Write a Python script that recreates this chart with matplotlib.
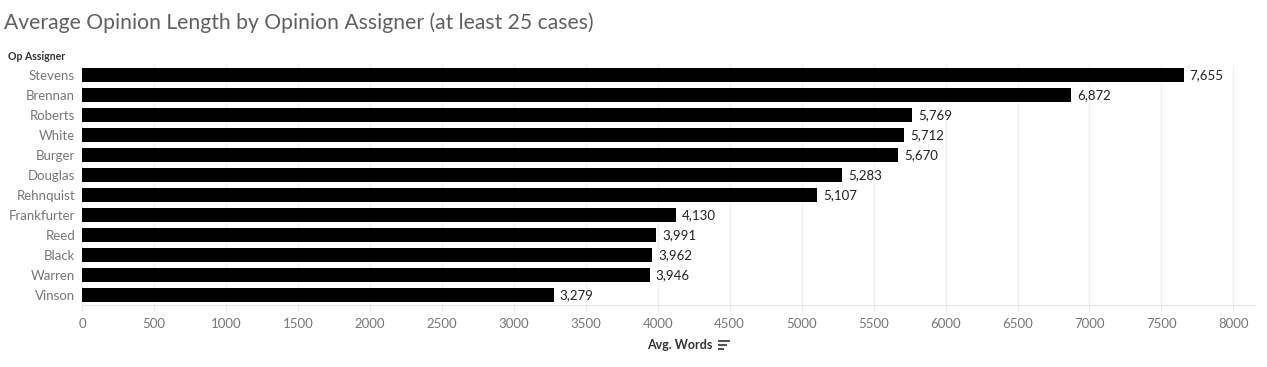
import matplotlib
matplotlib.use("Agg")
import matplotlib.pyplot as plt

assigners = ["Stevens", "Brennan", "Roberts", "White", "Burger", "Douglas",
             "Rehnquist", "Frankfurter", "Reed", "Black", "Warren", "Vinson"]
avg_words = [7655, 6872, 5769, 5712, 5670, 5283, 5107, 4130, 3991, 3962, 3946, 3279]
xticks = list(range(0, 8001, 500))

W, H = 1267, 367
fig = plt.figure(figsize=(W / 100, H / 100), dpi=100)
plt.rcParams['font.family'] = ['Lato', 'DejaVu Sans']

left, right = 82 / W, 1255 / W
top, bottom = 1 - 65 / H, 1 - 305 / H
ax = fig.add_axes([left, bottom, right - left, top - bottom])

y = list(range(len(assigners)))
ax.barh(y, avg_words, height=0.7, color="black", zorder=3)
ax.set_ylim(len(assigners) - 0.5, -0.5)
ax.set_xlim(0, 8150)
ax.set_yticks(y)
ax.set_yticklabels(assigners, color="#777777", fontsize=9.5)
ax.set_xticks(xticks)
ax.set_xticklabels([str(t) for t in xticks], color="#777777", fontsize=9.5)
ax.tick_params(axis="y", length=0, pad=5)
ax.tick_params(axis="x", length=4, color="#e6e6e6", pad=5)
for s in ["top", "right", "left"]:
    ax.spines[s].set_visible(False)
ax.spines["bottom"].set_color("#e6e6e6")
ax.grid(axis="x", color="#f0f0f0", linewidth=1, zorder=0)

for yi, v in zip(y, avg_words):
    ax.text(v + 40, yi, f"{v:,}", va="center", ha="left", fontsize=9.5, color="#222222")

fig.text(4 / W, 1 - 23 / H, "Average Opinion Length by Opinion Assigner (at least 25 cases)",
         fontsize=15.2, color="#606060", va="center", ha="left")
fig.text(8 / W, 1 - 57 / H, "Op Assigner", fontsize=7.6, fontweight="bold",
         color="#333333", va="center", ha="left")
fig.text(712 / W, 1 - 345 / H, "Avg. Words", fontsize=9, fontweight="bold",
         color="#333333", va="center", ha="right")
# sort icon
for i, wlen in enumerate([10, 7, 4]):
    yy = 1 - (341 + i * 4) / H
    fig.add_artist(plt.Line2D([719 / W, (719 + wlen) / W], [yy, yy],
                              color="#555555", linewidth=1.5))

fig.savefig("out.png", dpi=100)
